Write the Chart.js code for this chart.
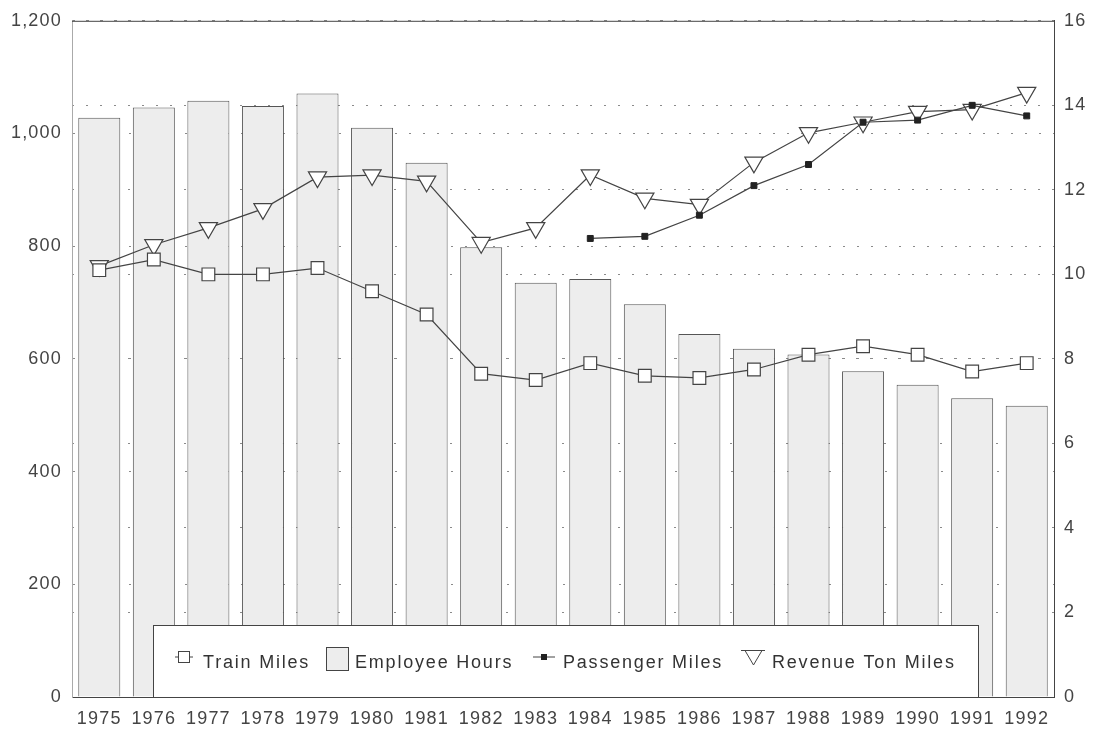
<!DOCTYPE html>
<html>
<head>
<meta charset="utf-8">
<script src="https://cdn.jsdelivr.net/npm/chart.js@4/dist/chart.umd.min.js"></script>
<style>
  body { margin: 0; background: #fff; }
  canvas { display: block; }
</style>
</head>
<body>
<canvas id="railChart" width="1099" height="736"></canvas>
<script>
const years = ["1975", "1976", "1977", "1978", "1979", "1980", "1981", "1982", "1983",
  "1984", "1985", "1986", "1987", "1988", "1989", "1990", "1991", "1992"];

// left axis
const employeeHours = [1028, 1046, 1058, 1049, 1071, 1010, 948, 798, 735,
  742, 697, 644, 618, 608, 578, 554, 530, 517];

// right axis
const trainMiles = [10.1, 10.35, 10.0, 10.0, 10.15, 9.6, 9.05, 7.65, 7.5,
  7.9, 7.6, 7.55, 7.75, 8.1, 8.3, 8.1, 7.7, 7.9];
const passengerMiles = [null, null, null, null, null, null, null, null, null,
  10.85, 10.9, 11.4, 12.1, 12.6, 13.6, 13.65, 14.0, 13.75];
const revenueTonMiles = [10.2, 10.7, 11.1, 11.55, 12.3, 12.35, 12.2, 10.75, 11.1,
  12.35, 11.8, 11.65, 12.65, 13.35, 13.6, 13.85, 13.9, 14.3];

const leftTicks = { min: 0, max: 1200, step: 200 };
const rightTicks = { min: 0, max: 16, step: 2 };

const ink = "#444";
const barFill = "#ededed";
const fontFamily = "'Liberation Sans', Arial, sans-serif";

const setSpacing = function (chart, px) {
  chart.ctx.letterSpacing = px + "px";
};

// legend box sits inside the plot, on top of the bars
const drawLegend = function (chart) {
  const ctx = chart.ctx;
  const area = chart.chartArea;
  const left = area.left + 81;
  const right = area.left + 906;
  const top = area.bottom - 72;
  const midY = area.bottom - 34;

  ctx.save();
  ctx.fillStyle = "#fff";
  ctx.fillRect(left, top, right - left, area.bottom - top);
  ctx.strokeStyle = ink;
  ctx.lineWidth = 1;
  ctx.strokeRect(left + 0.5, top + 0.5, right - left, area.bottom - top);

  ctx.strokeStyle = ink;
  ctx.fillStyle = "#fff";

  // Train Miles marker
  let x = left + 22;
  ctx.beginPath();
  ctx.moveTo(x, midY - 6);
  ctx.lineTo(x + 18, midY - 6);
  ctx.stroke();
  ctx.fillRect(x + 3.5, midY - 11.5, 11, 11);
  ctx.strokeRect(x + 3.5, midY - 11.5, 11, 11);

  // Employee Hours marker
  x = left + 173;
  ctx.fillStyle = barFill;
  ctx.fillRect(x, midY - 16, 22, 23);
  ctx.strokeRect(x + 0.5, midY - 15.5, 22, 23);

  // Passenger Miles marker
  x = left + 380;
  ctx.beginPath();
  ctx.moveTo(x, midY - 6);
  ctx.lineTo(x + 22, midY - 6);
  ctx.stroke();
  ctx.fillStyle = "#222";
  ctx.fillRect(x + 8, midY - 9, 6, 6);

  // Revenue Ton Miles marker
  x = left + 590;
  ctx.fillStyle = "#fff";
  ctx.beginPath();
  ctx.moveTo(x - 2, midY - 12.5);
  ctx.lineTo(x + 22, midY - 12.5);
  ctx.stroke();
  ctx.beginPath();
  ctx.moveTo(x + 2, midY - 12.5);
  ctx.lineTo(x + 19, midY - 12.5);
  ctx.lineTo(x + 10.5, midY + 2);
  ctx.closePath();
  ctx.stroke();

  ctx.fillStyle = "#333";
  ctx.font = "18px " + fontFamily;
  ctx.letterSpacing = "1.8px";
  ctx.textBaseline = "middle";
  ctx.textAlign = "left";
  ctx.fillText("Train Miles", left + 50, midY);
  ctx.fillText("Employee Hours", left + 202, midY);
  ctx.fillText("Passenger Miles", left + 410, midY);
  ctx.fillText("Revenue Ton Miles", left + 619, midY);
  ctx.restore();
};

const framePlugin = {
  id: "frame",
  beforeUpdate(chart) {
    setSpacing(chart, 1.2);
  },
  beforeDraw(chart) {
    setSpacing(chart, 1.2);
  },
  afterDraw(chart) {
    const ctx = chart.ctx;
    const area = chart.chartArea;
    ctx.save();
    ctx.strokeStyle = ink;
    ctx.lineWidth = 1;
    ctx.beginPath();
    ctx.moveTo(area.left, area.top + 0.5);
    ctx.lineTo(area.right, area.top + 0.5);
    ctx.stroke();
    ctx.restore();
    drawLegend(chart);
  },
};

const gridStyle = {
  color: "#8a8a8a",
  lineWidth: 1,
  drawTicks: false,
};

const config = {
  type: "bar",
  data: {
    labels: years,
    datasets: [
      {
        type: "line",
        label: "Train Miles",
        data: trainMiles,
        yAxisID: "y1",
        borderColor: ink,
        borderWidth: 1.2,
        pointStyle: "rect",
        pointRadius: 9,
        pointBackgroundColor: "#fff",
        pointBorderColor: ink,
        pointBorderWidth: 1.2,
        order: 0,
      },
      {
        type: "line",
        label: "Passenger Miles",
        data: passengerMiles,
        yAxisID: "y1",
        borderColor: ink,
        borderWidth: 1.2,
        pointStyle: "rect",
        pointRadius: 4.2,
        pointBackgroundColor: "#222",
        pointBorderColor: "#222",
        pointBorderWidth: 1,
        order: 0,
      },
      {
        type: "line",
        label: "Revenue Ton Miles",
        data: revenueTonMiles,
        yAxisID: "y1",
        borderColor: ink,
        borderWidth: 1.2,
        pointStyle: "triangle",
        pointRotation: 180,
        pointRadius: 10.5,
        pointBackgroundColor: "#fff",
        pointBorderColor: ink,
        pointBorderWidth: 1.2,
        order: 0,
      },
      {
        label: "Employee Hours",
        data: employeeHours,
        yAxisID: "y",
        backgroundColor: barFill,
        borderColor: "#555",
        borderWidth: 1,
        barPercentage: 0.77,
        categoryPercentage: 1,
        order: 1,
      },
    ],
  },
  options: {
    responsive: false,
    animation: false,
    devicePixelRatio: 1,
    layout: { padding: { top: 15, left: 0, right: 0, bottom: 0 } },
    plugins: {
      legend: { display: false },
      tooltip: { enabled: false },
    },
    scales: {
      x: {
        grid: { display: false, drawTicks: false },
        border: { display: true, color: ink, width: 1 },
        ticks: {
          color: ink,
          padding: 11,
          maxRotation: 0,
          autoSkip: false,
          font: { family: fontFamily, size: 18 },
        },
        afterFit(scale) {
          scale.height = 39;
        },
      },
      y: {
        position: "left",
        min: leftTicks.min,
        max: leftTicks.max,
        grid: gridStyle,
        border: { display: true, color: "#aaa", width: 1, dash: [2, 12] },
        ticks: {
          stepSize: leftTicks.step,
          color: ink,
          padding: 10,
          font: { family: fontFamily, size: 18 },
        },
        afterFit(scale) {
          scale.width = 72;
        },
      },
      y1: {
        position: "right",
        min: rightTicks.min,
        max: rightTicks.max,
        grid: gridStyle,
        border: { display: true, color: ink, width: 1, dash: [2, 12] },
        ticks: {
          stepSize: rightTicks.step,
          color: ink,
          padding: 10,
          font: { family: fontFamily, size: 18 },
        },
        afterFit(scale) {
          scale.width = 45;
        },
      },
    },
  },
  plugins: [framePlugin],
};

new Chart(document.getElementById("railChart"), config);
</script>
</body>
</html>
